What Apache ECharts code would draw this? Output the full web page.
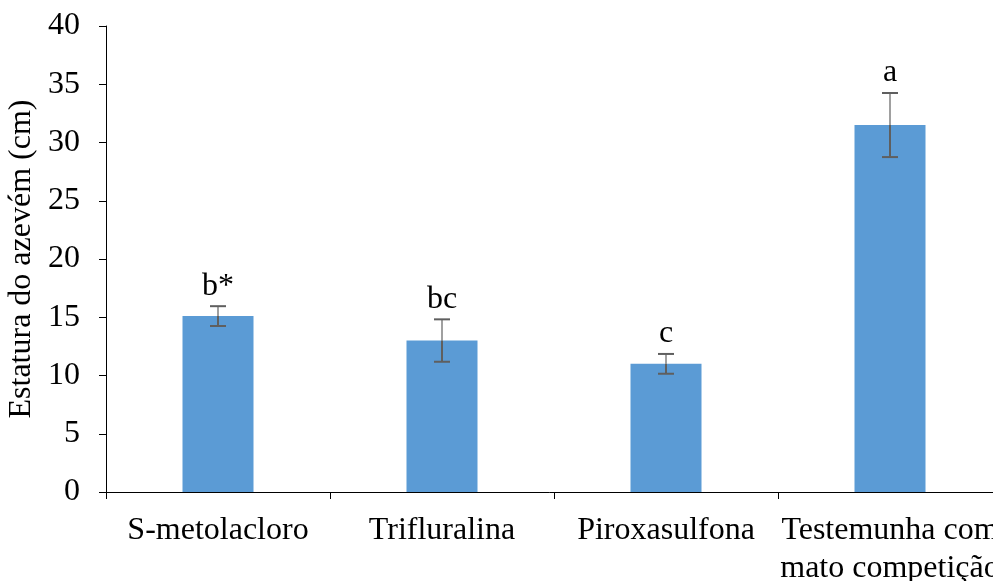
<!DOCTYPE html>
<html><head><meta charset="utf-8">
<script src="https://cdn.jsdelivr.net/npm/echarts@6/dist/echarts.min.js"></script>
<style>html,body{margin:0;padding:0;background:#fff}#c{width:993px;height:581px}</style>
</head><body><div id="c"></div>
<script>
const categories = ['S-metolacloro', 'Trifluralina', 'Piroxasulfona', 'Testemunha com\nmato competição'];
const values = [15.1, 13.0, 11.0, 31.5];
const errors = [0.85, 1.82, 0.85, 2.75];
const letters = ['b*', 'bc', 'c', 'a'];
const yTicks = {min: 0, max: 40, interval: 5};

const FONT = '"Liberation Serif", "Times New Roman", serif';
const chart = echarts.init(document.getElementById('c'));
const errData = values.map((v, i) => [i, v, errors[i], letters[i]]);
chart.setOption({
  animation: false,
  grid: {left: 106, top: 26, width: 896, height: 466, containLabel: false, outerBoundsMode: 'none'},
  xAxis: {
    type: 'category', data: categories, boundaryGap: true,
    axisLine: {lineStyle: {color: '#000', width: 1}},
    axisTick: {show: true, length: 7, lineStyle: {color: '#000'}},
    axisLabel: {color: '#000', fontFamily: FONT, fontSize: 32, margin: 20, lineHeight: 38, interval: 0, hideOverlap: false}
  },
  yAxis: {
    type: 'value', min: yTicks.min, max: yTicks.max, interval: yTicks.interval,
    name: 'Estatura do azevém (cm)', nameLocation: 'middle', nameGap: 67,
    nameTextStyle: {color: '#000', fontFamily: FONT, fontSize: 32},
    axisLine: {show: true, lineStyle: {color: '#000', width: 1}},
    axisTick: {show: true, length: 7, lineStyle: {color: '#000'}},
    axisLabel: {color: '#000', fontFamily: FONT, fontSize: 32, margin: 26},
    splitLine: {show: false}
  },
  series: [
    {type: 'bar', data: values, barWidth: 71, itemStyle: {color: '#5b9bd5'}},
    {
      type: 'custom', data: errData, z: 10,
      renderItem: function (params, api) {
        const x = api.coord([api.value(0), 0])[0];
        const v = api.value(1), e = api.value(2);
        const pTop = api.coord([api.value(0), v + e]);
        const pMid = api.coord([api.value(0), v]);
        const pBot = api.coord([api.value(0), v - e]);
        const cap = 8;
        return {type: 'group', children: [
          {type: 'line', shape: {x1: x, y1: pTop[1], x2: x, y2: pMid[1]}, style: {stroke: '#a0a0a0', lineWidth: 2}},
          {type: 'line', shape: {x1: x, y1: pMid[1], x2: x, y2: pBot[1]}, style: {stroke: '#5f5f5f', lineWidth: 2}},
          {type: 'line', shape: {x1: x - cap, y1: pTop[1], x2: x + cap, y2: pTop[1]}, style: {stroke: '#5f5f5f', lineWidth: 2}},
          {type: 'line', shape: {x1: x - cap, y1: pBot[1], x2: x + cap, y2: pBot[1]}, style: {stroke: '#5f5f5f', lineWidth: 2}},
          {type: 'text', style: {text: api.value(3), x: x, y: pTop[1] - 20, align: 'center', verticalAlign: 'middle',
            font: '32px ' + FONT, fill: '#000'}}
        ]};
      }
    }
  ]
});
</script></body></html>
